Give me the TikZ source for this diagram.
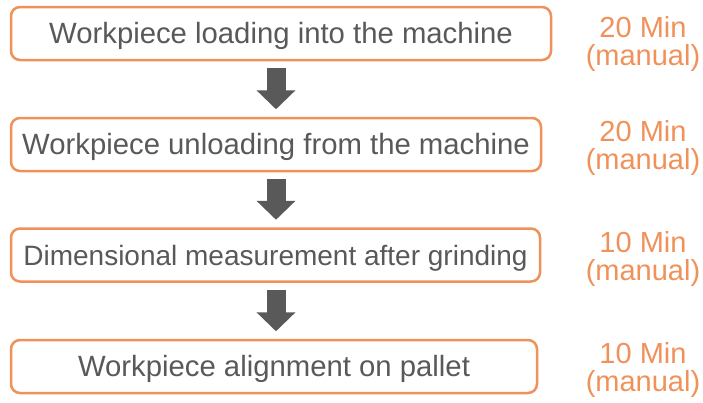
\documentclass[tikz,border=0pt]{standalone}
\usepackage{fontspec}
\setmainfont{Liberation Sans}
\usetikzlibrary{arrows.meta}
\definecolor{boxorange}{HTML}{F0915A}
\definecolor{txtgray}{HTML}{595959}
\begin{document}
\begin{tikzpicture}[x=1pt,y=-1pt,
  stepbox/.style={draw=boxorange, line width=2.5pt, rounded corners=9pt, fill=white,
    minimum height=53pt, inner sep=0pt, text=txtgray,
    font=\fontsize{29.3}{30}\selectfont, text height=20.8pt, text depth=0pt},
  smallstep/.style={stepbox, font=\fontsize{28}{30}\selectfont, text height=20pt},
  lbl/.style={text=boxorange, inner sep=0pt, anchor=base,
    font=\fontsize{29}{30}\selectfont},
  flowarrow/.style={draw=txtgray, line width=19pt,
    -{Triangle[width=38pt,length=19pt]}, shorten <=7pt, shorten >=7.5pt}
]
\useasboundingbox (0,0) rectangle (703,402);
\node[stepbox, minimum width=540pt] (b1) at (281,33.5) {Workpiece loading into the machine};
\node[stepbox, minimum width=530pt] (b2) at (276,144.5) {Workpiece unloading from the machine};
\node[smallstep, minimum width=529pt] (b3) at (275.5,255) {Dimensional measurement after grinding};
\node[stepbox, minimum width=526pt] (b4) at (274,366.5) {Workpiece alignment on pallet};

\draw[flowarrow] (b1.south -| b2.north) -- (b2.north);
\draw[flowarrow] (b2.south) -- (b3.north -| b2.north);
\draw[flowarrow] (b3.south -| b2.north) -- (b4.north -| b2.north);

\node[lbl] (m1) at (643,37) {20 Min};
\node[lbl] (u1) at (643,65) {(manual)};
\node[lbl] (m2) at (643,141) {20 Min};
\node[lbl] (u2) at (643,169) {(manual)};
\node[lbl] (m3) at (643,252) {10 Min};
\node[lbl] (u3) at (643,280) {(manual)};
\node[lbl] (m4) at (643,363) {10 Min};
\node[lbl] (u4) at (643,391) {(manual)};
\end{tikzpicture}
\end{document}
